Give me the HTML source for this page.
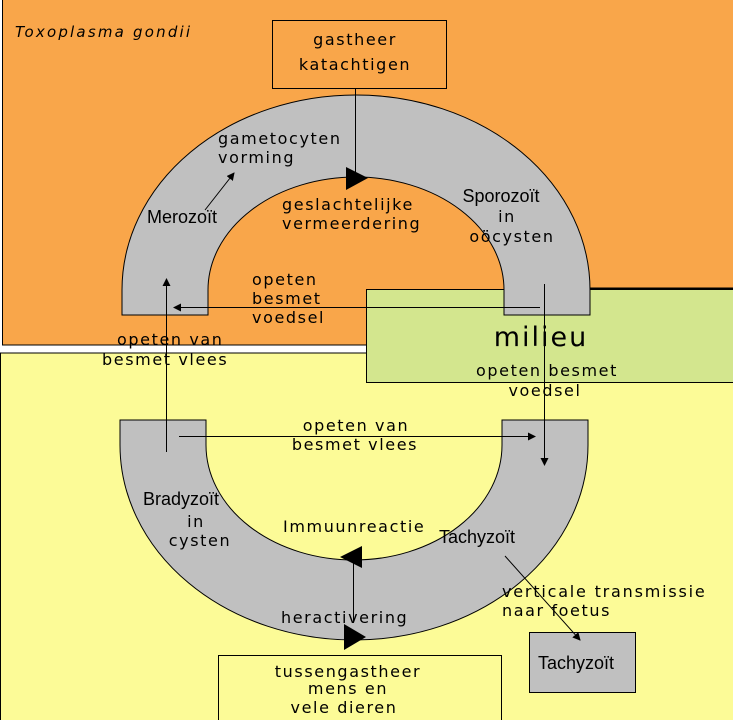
<!DOCTYPE html>
<html><head><meta charset="utf-8"><style>
html,body{margin:0;padding:0;background:#fff}
svg{display:block}
text{font-family:"DejaVu Sans","Liberation Sans",sans-serif;font-size:16px;fill:#000;letter-spacing:1.6px}
.s{font-family:"Liberation Sans",sans-serif;font-size:18px;letter-spacing:0}
</style></head><body>
<svg width="733" height="720" viewBox="0 0 733 720" xmlns="http://www.w3.org/2000/svg">
<defs>
<marker id="a" markerWidth="8" markerHeight="8" refX="7" refY="4" orient="auto" markerUnits="userSpaceOnUse"><path d="M0,0 L8,4 L0,8 z" fill="#000"/></marker>
</defs>
<rect x="0" y="0" width="733" height="720" fill="#fff"/>
<rect x="2.5" y="-1" width="740" height="346" fill="#F9A64A" stroke="#000" stroke-width="1"/>
<rect x="0.5" y="353" width="740" height="370" fill="#FCFB97" stroke="#000" stroke-width="1"/>
<rect x="366.5" y="289.5" width="370" height="93" fill="#D3E68E" stroke="#000" stroke-width="1"/>
<line x1="590" y1="288.5" x2="733" y2="288.5" stroke="#000" stroke-width="2"/>
<path d="M122,315 L122,290 A234,195 0 0 1 590,290 L590,315 L504,315 L504,290 A148,113 0 0 0 208,290 L208,315 Z" fill="#C0C0C0" stroke="#000" stroke-width="1"/>
<path d="M120,420 L120,445 A234,195 0 0 0 588,445 L588,420 L502,420 L502,445 A148,115 0 0 1 206,445 L206,420 Z" fill="#C0C0C0" stroke="#000" stroke-width="1"/>
<rect x="272.5" y="20.5" width="174" height="68" fill="none" stroke="#000"/>
<rect x="218.5" y="655.5" width="283" height="70" fill="#FCFB97" stroke="#000"/>
<rect x="529.5" y="632.5" width="106" height="60" fill="#C0C0C0" stroke="#000"/>
<line x1="355.5" y1="88" x2="355.5" y2="180" stroke="#000"/>
<path d="M346,167 L368,178 L346,190 z" fill="#000"/>
<line x1="540" y1="307.5" x2="174" y2="307.5" stroke="#000" marker-end="url(#a)"/>
<line x1="166.5" y1="452" x2="166.5" y2="279" stroke="#000" marker-end="url(#a)"/>
<line x1="544.5" y1="284" x2="544.5" y2="465" stroke="#000" marker-end="url(#a)"/>
<line x1="179" y1="436.5" x2="535" y2="436.5" stroke="#000" marker-end="url(#a)"/>
<line x1="205" y1="210" x2="234" y2="173" stroke="#000" marker-end="url(#a)"/>
<line x1="505" y1="556" x2="580" y2="640" stroke="#000" marker-end="url(#a)"/>
<line x1="353.5" y1="560" x2="353.5" y2="622" stroke="#000"/>
<path d="M362,546 L340,557 L362,568 z" fill="#000"/>
<path d="M344,624 L366,637 L344,650 z" fill="#000"/>
<text x="15" y="37" style="font-style:italic;font-size:15px;letter-spacing:2.2px">Toxoplasma gondii</text>
<text x="355" y="45" text-anchor="middle">gastheer</text>
<text x="355" y="70" text-anchor="middle">katachtigen</text>
<text x="218" y="144">gametocyten</text>
<text x="218" y="163">vorming</text>
<text x="147" y="223" class="s">Merozoït</text>
<text x="282" y="210">geslachtelijke</text>
<text x="282" y="229">vermeerdering</text>
<text x="501" y="202" class="s" text-anchor="middle">Sporozoït</text>
<text x="507" y="222" text-anchor="middle">in</text>
<text x="512" y="242" text-anchor="middle">oöcysten</text>
<text x="252" y="285">opeten</text>
<text x="252" y="304">besmet</text>
<text x="252" y="323">voedsel</text>
<text x="117" y="345">opeten van</text>
<text x="102" y="365">besmet vlees</text>
<text x="541" y="346" text-anchor="middle" style="font-size:27px;letter-spacing:2px">milieu</text>
<text x="547" y="376" text-anchor="middle">opeten besmet</text>
<text x="545" y="396" text-anchor="middle">voedsel</text>
<text x="356" y="431" text-anchor="middle">opeten van</text>
<text x="355" y="450" text-anchor="middle">besmet vlees</text>
<text x="181" y="505" class="s" text-anchor="middle">Bradyzoït</text>
<text x="196" y="527" text-anchor="middle">in</text>
<text x="200" y="546" text-anchor="middle">cysten</text>
<text x="283" y="532">Immuunreactie</text>
<text x="439" y="543" class="s">Tachyzoït</text>
<text x="502" y="597" style="letter-spacing:1.8px">verticale transmissie</text>
<text x="502" y="616">naar foetus</text>
<text x="281" y="623">heractivering</text>
<text x="348" y="677" text-anchor="middle">tussengastheer</text>
<text x="348" y="694" text-anchor="middle">mens en</text>
<text x="344" y="713" text-anchor="middle">vele dieren</text>
<text x="576" y="669" class="s" text-anchor="middle">Tachyzoït</text>
</svg>
</body></html>
